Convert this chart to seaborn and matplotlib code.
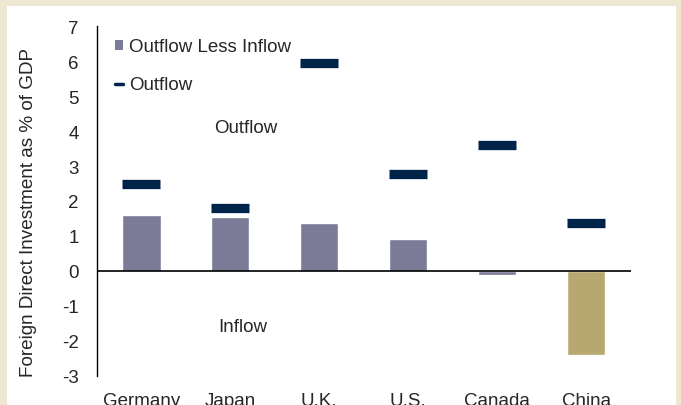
import matplotlib
matplotlib.use("Agg")
import matplotlib.pyplot as plt
from matplotlib.patches import Patch, Rectangle
from matplotlib.lines import Line2D
import seaborn as sns
import numpy as np
import pandas as pd

countries = ["Germany", "Japan", "U.K.", "U.S.", "Canada", "China"]
net_flow = [1.59, 1.53, 1.38, 0.91, -0.12, -2.40]   # outflow less inflow
outflow = [2.48, 1.81, 5.94, 2.78, 3.59, 1.37]
bar_colors = ["#7b7b97", "#7b7b97", "#7b7b97", "#7b7b97", "#7b7b97", "#b8a86f"]
yticks = [-3, -2, -1, 0, 1, 2, 3, 4, 5, 6, 7]

navy = "#00234a"
beige = "#eee8d3"

df = pd.DataFrame({"country": countries, "net": net_flow, "outflow": outflow})

sns.set_style("white")
plt.rcParams["font.family"] = ["Liberation Sans", "DejaVu Sans"]

fig = plt.figure(figsize=(6.81, 4.06), dpi=100, facecolor=beige)
# white panel inside the beige frame
fig.patches.append(Rectangle((7 / 681, 0), 669 / 681, 399 / 406, transform=fig.transFigure,
                             facecolor="white", edgecolor="none", zorder=-10))
ax = fig.add_axes([0.142, 0.072, 0.784, 0.861])
ax.set_facecolor("none")

sns.barplot(data=df, x="country", y="net", hue="country", palette=bar_colors,
            width=0.434, saturation=1, legend=False, ax=ax)
sns.pointplot(data=df, x="country", y="outflow", color=navy, markers="_",
              linestyle="none", markersize=28, markeredgewidth=6.7, errorbar=None, ax=ax)

ax.axhline(0, color="black", lw=1.2, zorder=1)
ax.set_xlim(-0.5, 5.5)
ax.set_ylim(-3, 7)
ax.set_yticks(yticks)
ax.set_yticklabels([str(t) for t in yticks])
ax.tick_params(axis="both", length=0, labelsize=13.5)
ax.tick_params(axis="y", pad=13)
ax.tick_params(axis="x", pad=12)
ax.set_xlabel("")
ax.set_ylabel("Foreign Direct Investment as % of GDP", fontsize=13.6, labelpad=17)
ax.yaxis.set_label_coords(-0.112, 0.47)

for side in ["top", "right", "bottom"]:
    ax.spines[side].set_visible(False)
ax.spines["left"].set_color("black")
ax.spines["left"].set_linewidth(1.0)

ax.text(1.18, 4.1, "Outflow", fontsize=13.5, ha="center", va="center")
ax.text(1.145, -1.58, "Inflow", fontsize=13.5, ha="center", va="center")

handles = [Patch(facecolor="#7b7b97", edgecolor="none"),
           Line2D([], [], color=navy, lw=2.5)]
ax.legend(handles, ["Outflow Less Inflow", "Outflow"], loc="upper left",
          bbox_to_anchor=(0.034, 0.965), frameon=False, fontsize=13.5, borderpad=0,
          borderaxespad=0, handlelength=0.45, handleheight=0.45, handletextpad=0.3,
          labelspacing=1.12)

fig.savefig("out.png", dpi=100, facecolor=beige)
